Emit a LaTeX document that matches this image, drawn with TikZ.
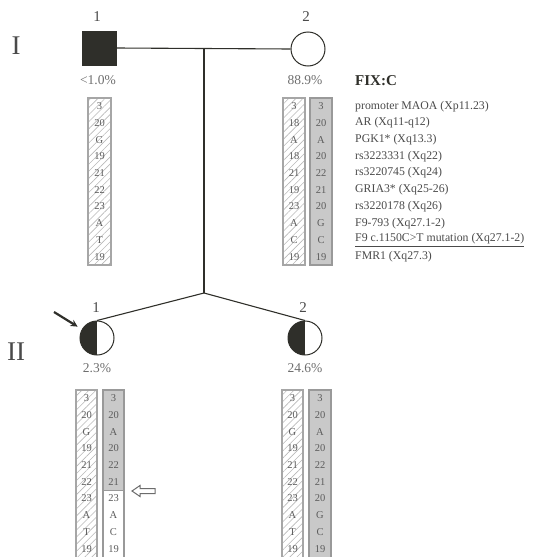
\documentclass[tikz,border=0pt]{standalone}
\usepackage{fontspec}
\setmainfont{Liberation Serif}
\usetikzlibrary{patterns.meta,arrows.meta}

\definecolor{ink}{HTML}{2F2F2A}
\definecolor{txt}{HTML}{4A4A4A}
\definecolor{hatch}{HTML}{B8B8B8}
\definecolor{greycol}{HTML}{C9C9C9}

% one allele column: name, centre x, top y, list of values
\newcommand{\allelecol}[4]{%
  \foreach \v [count=\k] in {#4} {
    \node[celltext] (#1-\k) at (#2, #3+8.35+\k*16.7-16.7) {\v};
  }%
}

\begin{document}
\begin{tikzpicture}[x=1pt,y=-1pt,
  pedline/.style={draw=ink, line width=1.1pt},
  male/.style={rectangle, draw=ink, line width=1pt, minimum size=34pt, inner sep=0pt},
  female/.style={circle, draw=ink, line width=1pt, minimum size=34pt, inner sep=0pt},
  carrier/.style={female, path picture={\fill[ink] (path picture bounding box.south west) rectangle (path picture bounding box.north);}},
  idlabel/.style={font=\fontsize{15}{15}\selectfont, text=txt},
  gen/.style={font=\fontsize{27}{27}\selectfont, text=txt},
  pct/.style={font=\fontsize{13.5}{13.5}\selectfont, text=txt!80},
  marker/.style={font=\fontsize{11.8}{11.8}\selectfont, text=txt, anchor=west, inner sep=0pt},
  celltext/.style={font=\fontsize{10.5}{10.5}\selectfont, text=txt!90, inner sep=0pt},
  hatchcol/.style={draw=hatch!90!black, line width=1.2pt, pattern={Lines[angle=45,distance=5pt,line width=0.6pt]}, pattern color=hatch},
  greybox/.style={draw=gray!80, line width=1.2pt, fill=greycol},
  whitebox/.style={draw=gray!80, line width=1.2pt, fill=white},
  pointer/.style={draw=ink, line width=2.2pt, -{Stealth[length=7pt,width=7pt]}}
]
\useasboundingbox (0,0) rectangle (534,557);

% generation numerals
\node[gen] (genI) at (16,46) {I};
\node[gen] (genII) at (16,352) {II};

% generation I
\node[male, fill=ink] (I1) at (99,48) {};
\node[female, fill=white] (I2) at (308,49) {};
\node[idlabel] (I1n) at (97,17) {1};
\node[idlabel] (I2n) at (306,17) {2};
\draw[pedline] (I1.east) -- (I2.west);
\coordinate (mid) at (204,48);
\coordinate (sib) at (204,293);
\draw[pedline] (mid) -- (sib);

% generation II
\node[carrier] (II1) at (97,338) {};
\node[carrier] (II2) at (305,338) {};
\node[idlabel] (II1n) at (96,308) {1};
\node[idlabel] (II2n) at (303,308) {2};
\draw[pedline] (sib) -- (II1.north);
\draw[pedline] (sib) -- (II2.north);
\coordinate (ptr) at (54,312);
\draw[pointer, shorten >=5pt] (ptr) -- (II1.150);

% percentages
\node[pct] (p1) at (98,80) {<1.0\%};
\node[pct] (p2) at (305,80) {88.9\%};
\node[pct] (p3) at (97,368) {2.3\%};
\node[pct] (p4) at (305,368) {24.6\%};

% haplotype columns, generation I
\draw[hatchcol] (88,98) rectangle (111,265);
\allelecol{I1a}{99.5}{98}{3,20,G,19,21,22,23,A,T,19}
\draw[hatchcol] (283,98) rectangle (305,265);
\allelecol{I2a}{294}{98}{3,18,A,18,21,19,23,A,C,19}
\draw[greybox] (310,98) rectangle (332,265);
\allelecol{I2b}{321}{98}{3,20,A,20,22,21,20,G,C,19}

% marker legend
\node[font=\fontsize{15}{15}\selectfont\bfseries, text=ink, anchor=west, inner sep=0pt] (fix) at (355,81) {FIX:C};
\foreach \m [count=\k] in {promoter MAOA (Xp11.23), AR (Xq11-q12), PGK1* (Xq13.3),
  rs3223331 (Xq22), rs3220745 (Xq24), GRIA3* (Xq25-26), rs3220178 (Xq26),
  F9-793 (Xq27.1-2), \underline{F9 c.1150C>T mutation (Xq27.1-2)}, FMR1 (Xq27.3)} {
  \node[marker] (mk-\k) at (355, 98+8.35+\k*16.7-16.7) {\m};
}

% haplotype columns, generation II
\draw[hatchcol] (76,390) rectangle (97,558);
\allelecol{II1a}{86.5}{390}{3,20,G,19,21,22,23,A,T,19}
\draw[greybox] (103,390) rectangle (124,490.2);
\draw[whitebox] (103,490.2) rectangle (124,558);
\allelecol{II1b}{113.5}{390}{3,20,A,20,22,21,23,A,C,19}
\draw[hatchcol] (282,390) rectangle (303,558);
\allelecol{II2a}{292.5}{390}{3,20,G,19,21,22,23,A,T,19}
\draw[greybox] (309,390) rectangle (331,558);
\allelecol{II2b}{320}{390}{3,20,A,20,22,21,20,G,C,19}

% open arrow marking the crossover point
\draw[draw=gray!85!black, line width=1pt, fill=white]
  (132,491) -- (140,485.5) -- (140,488.5) -- (155,488.5) -- (155,493.5)
  -- (140,493.5) -- (140,496.5) -- cycle;
\end{tikzpicture}
\end{document}
